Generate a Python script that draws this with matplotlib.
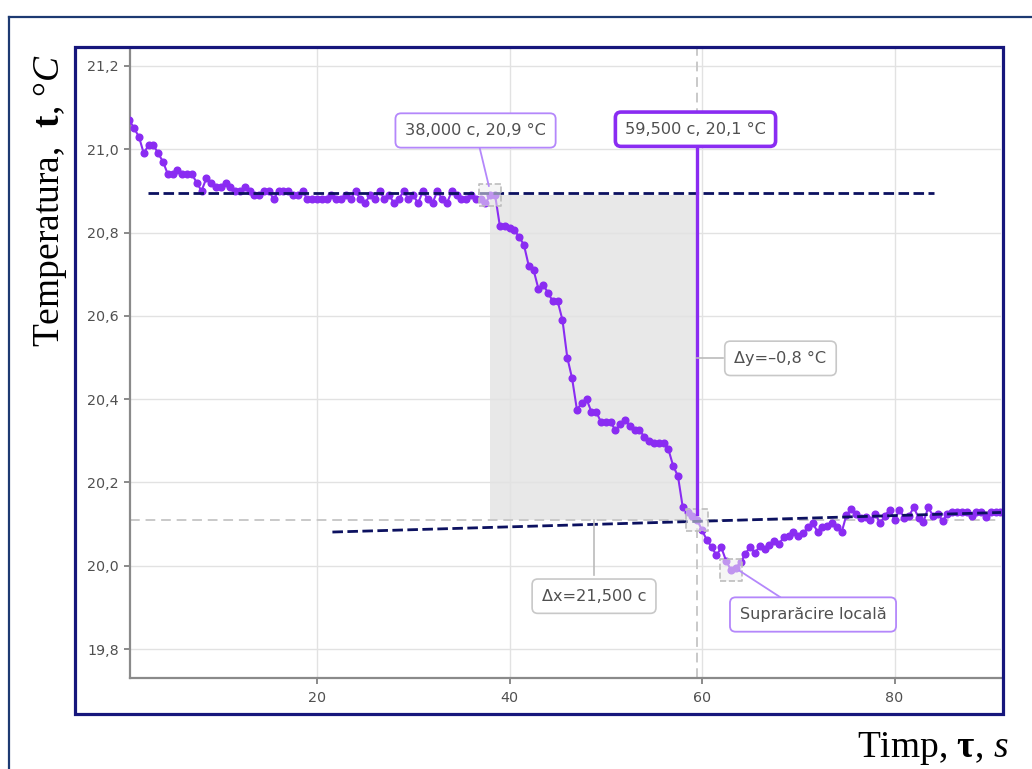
import numpy as np
import matplotlib
matplotlib.use("Agg")
import matplotlib.pyplot as plt
from matplotlib.patches import Rectangle
from matplotlib.lines import Line2D

plt.rcParams['mathtext.fontset'] = 'custom'
plt.rcParams['mathtext.rm'] = 'Liberation Serif'
plt.rcParams['mathtext.it'] = 'Liberation Serif:italic'
plt.rcParams['mathtext.bf'] = 'Liberation Serif:bold'

# ---------------- data (sampled every 0.5 s) ----------------
STEP = 0.5
seg1_start = 0.5
temp_seg1 = [21.07, 21.05, 21.03, 20.99, 21.01, 21.01, 20.99, 20.97, 20.94, 20.94,
             20.95, 20.94, 20.94, 20.94, 20.92, 20.90, 20.93, 20.92, 20.91, 20.91,
             20.92, 20.91, 20.90, 20.90, 20.91, 20.90, 20.89, 20.89, 20.90, 20.90,
             20.88, 20.90, 20.90, 20.90, 20.89, 20.89, 20.90, 20.88, 20.88, 20.88]
seg2_start = 20.5
temp_seg2 = [20.88, 20.88, 20.89, 20.88, 20.88, 20.89, 20.88, 20.90, 20.88, 20.87,
             20.89, 20.88, 20.90, 20.88, 20.89, 20.87, 20.88, 20.90, 20.88, 20.89,
             20.87, 20.90, 20.88, 20.87, 20.90, 20.88, 20.87, 20.90, 20.89, 20.88,
             20.88, 20.89, 20.88, 20.88, 20.87, 20.89]
seg3_start = 38.5
temp_seg3 = [20.89, 20.815, 20.815, 20.81, 20.805, 20.79, 20.77, 20.72, 20.71, 20.665,
             20.675, 20.655, 20.635, 20.635, 20.59, 20.50, 20.45, 20.375, 20.39, 20.40,
             20.37, 20.37, 20.345, 20.345, 20.345, 20.325, 20.34, 20.35, 20.335, 20.325,
             20.325, 20.31, 20.30, 20.295, 20.295, 20.295, 20.28, 20.24, 20.215, 20.14,
             20.13, 20.12, 20.11]
seg4_start = 60.0
temp_seg4 = [20.085, 20.062, 20.045, 20.025, 20.044, 20.012, 19.99, 19.995, 20.008, 20.028,
             20.046, 20.03, 20.048, 20.04, 20.05, 20.06, 20.052, 20.07, 20.072, 20.082,
             20.072, 20.078, 20.092, 20.102, 20.082, 20.092, 20.096, 20.102, 20.094, 20.08,
             20.122, 20.136, 20.125, 20.115, 20.118, 20.11, 20.125, 20.102, 20.12, 20.135,
             20.11, 20.135, 20.115, 20.12, 20.14, 20.115, 20.105, 20.14, 20.12, 20.125,
             20.108, 20.125, 20.128, 20.128, 20.128, 20.128, 20.12, 20.13, 20.128, 20.118,
             20.13, 20.128, 20.13]

segments = [(seg1_start, temp_seg1), (seg2_start, temp_seg2),
            (seg3_start, temp_seg3), (seg4_start, temp_seg4)]
time = np.concatenate([s + STEP * np.arange(len(v)) for s, v in segments])
temp = np.concatenate([np.array(v) for _, v in segments])

# highlighted points (start, end, local undercooling)
hl_t = [38.0, 59.5, 63.0]
hl_T = [20.89, 20.11, 19.99]

# trend lines
trend1_t = [2.4, 84.1]
trend1_T = [20.895, 20.895]
trend2_t = [21.6, 91.06]
trend2_T = [20.081, 20.128]

y_ticks = [19.8, 20.0, 20.2, 20.4, 20.6, 20.8, 21.0, 21.2]
y_tick_labels = ["19,8", "20,0", "20,2", "20,4", "20,6", "20,8", "21,0", "21,2"]
x_ticks = [20, 40, 60, 80]
x_tick_labels = ["20", "40", "60", "80"]

label_start = "38,000 c, 20,9 °C"
label_end = "59,500 c, 20,1 °C"
label_dy = "Δy=–0,8 °C"
label_dx = "Δx=21,500 c"
label_local = "Suprarăcire locală"

# ---------------- styling ----------------
PURPLE = '#8a2cf2'
LIGHT_PURPLE = '#b487fb'
NAVY = '#0c1160'
FRAME = '#16167c'
GREY_TXT = '#505050'
UI_FONT = ['DejaVu Sans']

W, H = 1032, 769
fig = plt.figure(figsize=(W / 100, H / 100), dpi=100)
fig.patch.set_facecolor('white')


def fx(px):
    return px / W


def fy(py):
    return 1 - py / H


ax = fig.add_axes([fx(130), fy(678), fx(1001) - fx(130), fy(48) - fy(678)])
ax.set_xlim(0.571, 91.06)
ax.set_ylim(19.7306, 21.243)

# grid
ax.set_axisbelow(True)
ax.grid(True, color='#e2e2e2', lw=1.0, zorder=0.5)

# shaded region between the highlighted points
ax.fill_between([hl_t[0], hl_t[1]], hl_T[1], hl_T[0], color='#e8e8e8', lw=0, zorder=0.3)

# grey dashed crosshair
ax.axhline(hl_T[1], color='#c9c9c9', lw=1.4, ls=(0, (5, 3)), zorder=1)
ax.axvline(hl_t[1], color='#c9c9c9', lw=1.4, ls=(0, (5, 3)), zorder=1)

# data
ax.plot(time, temp, color=PURPLE, lw=1.5, marker='o', ms=4.8, mec=PURPLE, mfc=PURPLE, zorder=3)

# trend lines
ax.plot(trend1_t, trend1_T, color=NAVY, lw=2.0, ls=(0, (3.8, 1.6)), zorder=4)
ax.plot(trend2_t, trend2_T, color=NAVY, lw=2.0, ls=(0, (3.8, 1.6)), zorder=4)

# highlight squares
ax.scatter(hl_t, hl_T, marker='s', s=16 ** 2, facecolors=(0.93, 0.93, 0.93, 0.55),
           edgecolors='#bdbdbd', linewidths=1.2, linestyle='--', zorder=5)

# connectors
ax.plot([36.9, 37.85], [21.003, 20.912], color=LIGHT_PURPLE, lw=1.3, zorder=5)
ax.plot([hl_t[1], hl_t[1]], [21.003, 20.125], color=PURPLE, lw=2.4, zorder=5)
ax.plot([hl_t[1], 62.2], [20.499, 20.499], color='#bbbbbb', lw=1.2, zorder=5)
ax.plot([48.78, 48.78], [19.978, hl_T[1]], color='#bbbbbb', lw=1.2, zorder=5)
ax.plot([68.1, 63.9], [19.925, 19.988], color=LIGHT_PURPLE, lw=1.3, zorder=5)

box_kw = dict(fontsize=11.6, color=GREY_TXT, family=UI_FONT, ha='center', va='center', zorder=6)
bs = 'round,pad=0.6,rounding_size=0.35'
ax.text(36.47, 21.045, label_start,
        bbox=dict(boxstyle=bs, fc='white', ec=LIGHT_PURPLE, lw=1.3), **box_kw)
ax.text(59.32, 21.048, label_end,
        bbox=dict(boxstyle=bs, fc='white', ec=PURPLE, lw=2.6), **box_kw)
ax.text(68.15, 20.498, label_dy,
        bbox=dict(boxstyle=bs, fc='white', ec='#c8c8c8', lw=1.2), **box_kw)
ax.text(48.78, 19.927, label_dx,
        bbox=dict(boxstyle=bs, fc='white', ec='#c8c8c8', lw=1.2), **box_kw)
ax.text(71.53, 19.883, label_local,
        bbox=dict(boxstyle=bs, fc='white', ec=LIGHT_PURPLE, lw=1.3), **box_kw)

# ticks / spines
ax.set_yticks(y_ticks)
ax.set_yticklabels(y_tick_labels)
ax.set_xticks(x_ticks)
ax.set_xticklabels(x_tick_labels)
ax.tick_params(axis='both', colors='#777777', labelcolor=GREY_TXT, labelsize=10.3,
               length=4, width=1.2, direction='out')
ax.tick_params(axis='y', pad=4)
ax.tick_params(axis='x', pad=5)
for lbl in ax.get_xticklabels() + ax.get_yticklabels():
    lbl.set_family(UI_FONT)
for s in ['top', 'right']:
    ax.spines[s].set_visible(False)
for s in ['left', 'bottom']:
    ax.spines[s].set_color('#8a8a8a')
    ax.spines[s].set_linewidth(1.6)

# navy inner frame
fig.patches.append(Rectangle((fx(75), fy(714)), fx(1003) - fx(75), fy(47) - fy(714),
                             transform=fig.transFigure, fill=False, ec=FRAME, lw=2.3, zorder=10))
# outer frame (partially visible)
fig.lines.append(Line2D([fx(9), fx(9)], [fy(17), fy(769)], transform=fig.transFigure,
                        color='#1d3a72', lw=1.6))
fig.lines.append(Line2D([fx(9), fx(1032)], [fy(17), fy(17)], transform=fig.transFigure,
                        color='#1d3a72', lw=1.6))

# axis titles (serif)
fig.text(fx(50), fy(200), r"Temperatura,  $\mathbf{t}$, °$\mathit{C}$", rotation=90,
         ha='center', va='center', fontsize=27, family='Liberation Serif', color='black')
fig.text(fx(1008), fy(757), r"Timp, $\mathbf{τ}$, $\mathit{s}$",
         ha='right', va='baseline', fontsize=27, family='Liberation Serif', color='black')

fig.savefig('out.png', dpi=100)
